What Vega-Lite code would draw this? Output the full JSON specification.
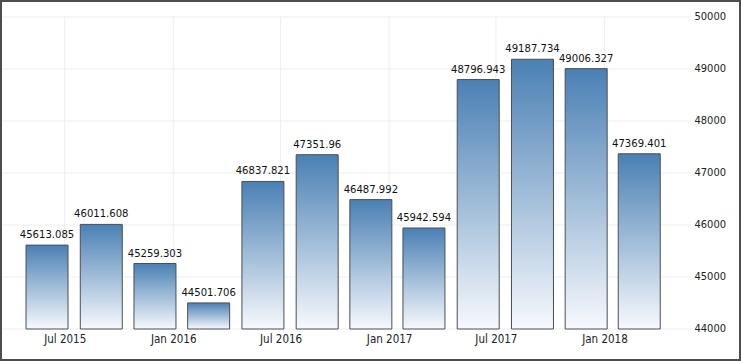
{
  "$schema": "https://vega.github.io/schema/vega-lite/v6.json",
  "width": 741,
  "height": 361,
  "padding": 0,
  "autosize": {"type": "none"},
  "background": "#ffffff",
  "config": {
    "view": {"stroke": "#4d4d4d", "strokeWidth": 4},
    "font": "DejaVu Sans Condensed, DejaVu Sans",
    "axisX": {
      "orient": "bottom", "offset": -32, "title": null, "domain": false, "ticks": false, "grid": false,
      "format": "%b %Y", "labelFontSize": 11.5, "labelColor": "#222222", "labelPadding": 4
    },
    "axisY": {
      "orient": "right", "offset": -48, "title": null, "domain": false, "ticks": false, "grid": false,
      "format": "d", "labelFontSize": 11, "labelColor": "#222222", "labelPadding": 1
    }
  },
  "datasets": {
    "bars": [
      {"date": "2015-06-01", "value": 45613.085},
      {"date": "2015-09-01", "value": 46011.608},
      {"date": "2015-12-01", "value": 45259.303},
      {"date": "2016-03-01", "value": 44501.706},
      {"date": "2016-06-01", "value": 46837.821},
      {"date": "2016-09-01", "value": 47351.96},
      {"date": "2016-12-01", "value": 46487.992},
      {"date": "2017-03-01", "value": 45942.594},
      {"date": "2017-06-01", "value": 48796.943},
      {"date": "2017-09-01", "value": 49187.734},
      {"date": "2017-12-01", "value": 49006.327},
      {"date": "2018-03-01", "value": 47369.401}
    ],
    "vgrid": [
      {"date": "2015-07-01"},
      {"date": "2016-01-01"},
      {"date": "2016-07-01"},
      {"date": "2017-01-01"},
      {"date": "2017-07-01"},
      {"date": "2018-01-01"}
    ],
    "hgrid": [
      {"v": 44000}, {"v": 45000}, {"v": 46000}, {"v": 47000},
      {"v": 48000}, {"v": 49000}, {"v": 50000}
    ]
  },
  "encoding": {
    "x": {
      "type": "temporal",
      "scale": {"type": "utc", "padding": 0, "domain": [{"year": 2015, "month": 3, "date": 13, "hours": 7, "utc": true}, {"year": 2018, "month": 8, "date": 20, "hours": 12, "utc": true}]},
      "axis": {
        "orient": "bottom", "offset": -32, "title": null, "format": "%b %Y",
        "values": [
          {"year": 2015, "month": 7, "date": 1, "utc": true},
          {"year": 2016, "month": 1, "date": 1, "utc": true},
          {"year": 2016, "month": 7, "date": 1, "utc": true},
          {"year": 2017, "month": 1, "date": 1, "utc": true},
          {"year": 2017, "month": 7, "date": 1, "utc": true},
          {"year": 2018, "month": 1, "date": 1, "utc": true}
        ]
      }
    },
    "y": {
      "type": "quantitative",
      "scale": {"domain": [43384.6, 50326.9], "nice": false, "zero": false, "padding": 0},
      "axis": {
        "orient": "right", "offset": -48, "title": null, "format": "d",
        "values": [44000, 45000, 46000, 47000, 48000, 49000, 50000]
      }
    }
  },
  "layer": [
    {
      "data": {"name": "hgrid"},
      "mark": {"type": "rule", "color": "#eeeeee", "strokeWidth": 1},
      "encoding": {
        "y": {"field": "v"},
        "x": {"datum": {"year": 2015, "month": 3, "date": 17, "utc": true}},
        "x2": {"datum": {"year": 2018, "month": 5, "date": 29, "utc": true}}
      }
    },
    {
      "data": {"name": "vgrid"},
      "mark": {"type": "rule", "color": "#eeeeee", "strokeWidth": 1},
      "encoding": {
        "x": {"field": "date"},
        "y": {"datum": 44000},
        "y2": {"datum": 50000}
      }
    },
    {
      "data": {"name": "bars"},
      "mark": {
        "type": "bar",
        "width": 42,
        "stroke": "#4a4f55",
        "strokeWidth": 1,
        "fill": {
          "gradient": "linear",
          "x1": 0, "y1": 0, "x2": 0, "y2": 1,
          "stops": [
            {"offset": 0, "color": "#4a80b4"},
            {"offset": 1, "color": "#f7f9fd"}
          ]
        }
      },
      "encoding": {
        "x": {"field": "date"},
        "y": {"field": "value"},
        "y2": {"datum": 44000}
      }
    },
    {
      "data": {"name": "bars"},
      "mark": {"type": "text", "baseline": "alphabetic", "dy": -7, "fontSize": 11.2, "color": "#111111"},
      "encoding": {
        "x": {"field": "date"},
        "y": {"field": "value"},
        "text": {"field": "value", "type": "quantitative", "format": "~f"}
      }
    }
  ]
}
